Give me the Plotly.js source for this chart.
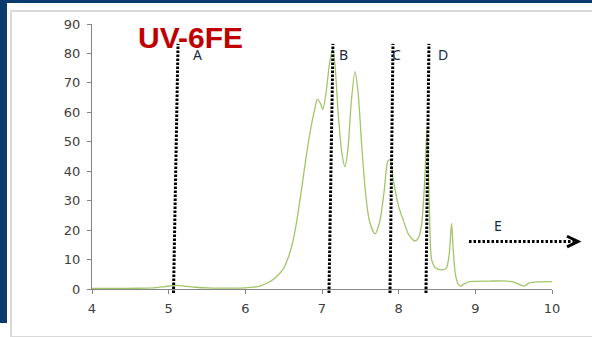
<!DOCTYPE html>
<html>
<head>
<meta charset="utf-8">
<script src="https://cdn.plot.ly/plotly-3.0.1.min.js"></script>
<style>
  html, body { margin: 0; padding: 0; background: #ffffff; }
  #wrap { position: relative; width: 592px; height: 337px; overflow: hidden; background: #ffffff; }
  .band { position: absolute; background: #0b3a6c; }
  #bandTop { left: 0; top: 0; width: 592px; height: 3px; }
  #bandLeft { left: 0; top: 0; width: 7px; height: 323px; }
  #frame { position: absolute; left: 10px; top: 10px; width: 620px; height: 324px; border: 2px solid #d9d9d9; }
  #chart { position: absolute; left: 0; top: 0; width: 592px; height: 337px; }
</style>
</head>
<body>
<div id="wrap">
  <div class="band" id="bandTop"></div>
  <div class="band" id="bandLeft"></div>
  <div id="frame"></div>
  <div id="chart"></div>
</div>
<script>
// UV trace of the 6FE sample: retention time (min) vs detector signal
const retention = [
  4.0, 4.3, 4.6, 4.8, 4.95, 5.08, 5.2, 5.35, 5.5, 5.8,
  6.0, 6.1, 6.2, 6.3, 6.4, 6.5, 6.55, 6.6, 6.65, 6.7,
  6.75, 6.8, 6.85, 6.9, 6.94, 6.98, 7.01, 7.05, 7.1, 7.14,
  7.17, 7.21, 7.26, 7.3, 7.34, 7.38, 7.43, 7.47, 7.52, 7.57,
  7.62, 7.69, 7.75, 7.81, 7.86, 7.89, 7.93, 8.0, 8.06, 8.13,
  8.21, 8.26, 8.3, 8.34, 8.37, 8.4, 8.43, 8.48, 8.54, 8.62,
  8.66, 8.69, 8.71, 8.74, 8.78, 8.81, 8.86, 8.92, 9.2, 9.41,
  9.52, 9.6, 9.64, 9.7, 9.8, 10.0
];
const signal = [
  0.2, 0.2, 0.25, 0.4, 0.8, 1.2, 1.0, 0.6, 0.35, 0.3,
  0.4, 0.6, 1.1, 2.2, 4.0, 7.0, 10, 14, 20, 28,
  37, 46, 54, 60.5, 64.5, 63, 61, 66, 77, 81.4,
  76, 60, 46, 41.5, 48, 63, 73.8, 67, 48, 32,
  23, 18.7, 22.5, 33, 43.5, 43.8, 37, 28, 23.4, 18.5,
  16.3, 17.5, 22, 37, 54.5, 28, 10, 7.2, 6.5, 7,
  12, 22.3, 14, 5, 1.5, 1.0, 1.8, 2.5, 2.7, 2.7,
  2.2, 1.2, 1.0, 2.0, 2.4, 2.5
];

// Fraction cut points (retention time where each dotted divider meets the top and the axis)
const cutNames = ['A', 'B', 'C', 'D'];
const cutTopX = [5.122, 7.143, 7.926, 8.395];
const cutBaseX = [5.063, 7.091, 7.887, 8.356];
const cutLabelX = [5.37, 7.286, 7.973, 8.578];
const cutLabelY = 79.5;

// Tail fraction label
const tailName = 'E';
const tailLabelX = 9.296;
const tailLabelY = 21.4;

const xTicks = [4, 5, 6, 7, 8, 9, 10];
const yTicks = [0, 10, 20, 30, 40, 50, 60, 70, 80, 90];

const trace = {
  x: retention,
  y: signal,
  type: 'scatter',
  mode: 'lines',
  line: { color: '#a3c56a', width: 1.3, shape: 'spline', smoothing: 0.7 },
  hoverinfo: 'x+y'
};

const dotted = { color: '#000000', width: 3, dash: '2.5px,1.5px' };

const shapes = cutTopX.map((xt, i) => ({
  type: 'line', xref: 'x', yref: 'paper',
  x0: cutBaseX[i], y0: -0.015, x1: xt, y1: 0.925,
  line: dotted, layer: 'above'
}));

// dotted arrow for the tail fraction
shapes.push({
  type: 'line', xref: 'paper', yref: 'paper',
  x0: 0.8196, y0: 0.1792, x1: 1.048, y1: 0.1792,
  line: { color: '#000000', width: 3, dash: '2.5px,2px' }
});
shapes.push({
  type: 'path', xref: 'paper', yref: 'paper',
  path: 'M 1.0326 0.199 L 1.0565 0.1792 L 1.0326 0.159',
  line: { color: '#000000', width: 3 }
});

const labelFont = { family: 'Noto Sans, sans-serif', size: 14, color: '#1b2a44' };

const annotations = cutNames.map((name, i) => ({
  x: cutLabelX[i], y: cutLabelY, xref: 'x', yref: 'y',
  text: name, showarrow: false, font: labelFont,
  xanchor: 'center', yanchor: 'middle', borderpad: 0
}));
annotations.push({
  x: tailLabelX, y: tailLabelY, xref: 'x', yref: 'y',
  text: tailName, showarrow: false, font: labelFont,
  xanchor: 'center', yanchor: 'middle', borderpad: 0
});
annotations.push({
  x: 0.0978, y: 0.95, xref: 'paper', yref: 'paper',
  text: '<b>UV-6FE</b>', showarrow: false,
  font: { family: 'Liberation Sans, Arial, sans-serif', size: 30, color: '#c00000' },
  xanchor: 'left', yanchor: 'middle', borderpad: 0
});

const axisFont = { family: 'DejaVu Sans, sans-serif', size: 13, color: '#404040' };

const layout = {
  width: 592,
  height: 337,
  margin: { l: 92, r: 40, t: 24, b: 48, pad: 0 },
  paper_bgcolor: 'rgba(0,0,0,0)',
  plot_bgcolor: 'rgba(0,0,0,0)',
  showlegend: false,
  xaxis: {
    range: [4, 10],
    tickvals: xTicks,
    ticktext: xTicks.map(String),
    showgrid: false, zeroline: false,
    showline: true, linecolor: '#868686', linewidth: 1,
    ticks: 'outside', ticklen: 4, tickcolor: '#868686',
    tickfont: axisFont, ticklabelstandoff: 3
  },
  yaxis: {
    range: [0, 90],
    tickvals: yTicks,
    ticktext: yTicks.map(String),
    showgrid: false, zeroline: false,
    showline: true, linecolor: '#868686', linewidth: 1,
    ticks: 'outside', ticklen: 4, tickcolor: '#868686',
    tickfont: axisFont, ticklabelstandoff: 4
  },
  shapes: shapes,
  annotations: annotations
};

Plotly.newPlot('chart', [trace], layout, { staticPlot: true, displayModeBar: false });
</script>
</body>
</html>
